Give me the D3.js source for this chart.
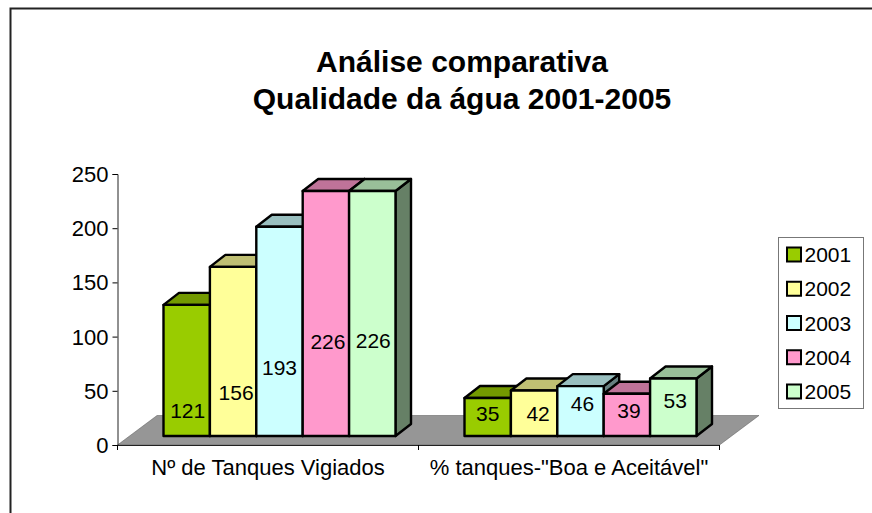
<!DOCTYPE html>
<html>
<head>
<meta charset="utf-8">
<script src="https://cdn.jsdelivr.net/npm/d3@7"></script>
<style>
  body { margin: 0; background: #fff; }
  text { font-family: "Liberation Sans", Arial, sans-serif; fill: #000; }
</style>
</head>
<body>
<div id="chart"></div>
<script>
const categories = ["Nº de Tanques Vigiados", "% tanques-\"Boa e Aceitável\""];
const years = ["2001", "2002", "2003", "2004", "2005"];
const tanques = [121, 156, 193, 226, 226];
const percent = [35, 42, 46, 39, 53];
const colors = ["#99cc00", "#ffff99", "#ccffff", "#ff99cc", "#ccffcc"];
const yTicks = [0, 50, 100, 150, 200, 250];

// data labels were moved by hand in the original, so nudge them from the bar centre
const labelNudgeX = [[1, 3, 0, 2, 1], [0, 4, 2, 2, 2]];
const labelNudgeY = [[40, 41, 36, 28, 27], [-3, 0, -7, -4, -7]];

const width = 872;
const height = 513;

const svg = d3.select("#chart").append("svg")
  .attr("width", width)
  .attr("height", height)
  .style("display", "block");

// chart frame, only top and left are drawn in the picture
svg.append("path")
  .attr("d", "M10.5,513V8.5H872")
  .attr("fill", "none")
  .attr("stroke", "#222")
  .attr("stroke-width", 2);

// title
const title = svg.append("text")
  .attr("text-anchor", "middle")
  .attr("font-weight", "bold")
  .attr("font-size", 30);
title.append("tspan").attr("x", 462).attr("y", 72).text("Análise comparativa");
title.append("tspan").attr("x", 462).attr("y", 109).text("Qualidade da água 2001-2005");

// scales
const y = d3.scaleLinear().domain([0, 250]).range([445, 174]);
const x = d3.scaleBand().domain(categories).range([117.5, 719.5]);
const xBar = d3.scaleBand().domain(years).range([46, 278]);

// 3d offsets
const floorDx = 39.5, floorDy = -29.5;
const baseDy = -9;
const barDx = 15.5, barDy = -12;

// floor
svg.append("path")
  .attr("d", d3.line()([
    [x.range()[0], y(0)],
    [x.range()[0] + floorDx, y(0) + floorDy],
    [x.range()[1] + floorDx, y(0) + floorDy],
    [x.range()[1], y(0)]
  ]) + "Z")
  .attr("fill", "#969696")
  .attr("stroke", "#555")
  .attr("stroke-width", 0.5);

// axes
const yAxis = svg.append("g")
  .attr("transform", `translate(${x.range()[0]},0)`)
  .call(d3.axisLeft(y).tickValues(yTicks).tickSize(5).tickPadding(4).tickFormat(d3.format("d")));
yAxis.selectAll("text").attr("font-size", 22).attr("dy", "0.34em");

const xAxis = svg.append("g")
  .attr("transform", `translate(0,${y(0)})`)
  .call(d3.axisBottom(x).tickSize(0).tickPadding(14));
xAxis.selectAll("text").attr("font-size", 22).attr("dy", "0.72em");
xAxis.selectAll(".tick-edge")
  .data([x(categories[0]), x(categories[1]), x.range()[1]])
  .enter().append("line")
  .attr("x1", d => d).attr("x2", d => d)
  .attr("y1", 0).attr("y2", 5)
  .attr("stroke", "#000");
svg.selectAll(".domain").attr("stroke", "#222");

function shade(c, k) {
  const rgb = d3.rgb(c);
  return d3.rgb(rgb.r * k, rgb.g * k, rgb.b * k).formatHex();
}

// bars, left to right so later ones cover the side of earlier ones
const barsLayer = svg.append("g");
const labelsLayer = svg.append("g");

[tanques, percent].forEach(function (values, c) {
  const x0 = x(categories[c]);
  values.forEach(function (v, i) {
    const left = x0 + xBar(years[i]);
    const right = left + xBar.bandwidth();
    const bottom = y(0) + baseDy;
    const top = y(v) + baseDy;
    const g = barsLayer.append("g")
      .attr("stroke", "#000")
      .attr("stroke-width", 2.4)
      .attr("stroke-linejoin", "round");

    g.append("path") // side
      .attr("d", d3.line()([[right, bottom], [right + barDx, bottom + barDy], [right + barDx, top + barDy], [right, top]]) + "Z")
      .attr("fill", shade(colors[i], 0.5));
    g.append("path") // top
      .attr("d", d3.line()([[left, top], [left + barDx, top + barDy], [right + barDx, top + barDy], [right, top]]) + "Z")
      .attr("fill", shade(colors[i], 0.75));
    g.append("rect") // front
      .attr("x", left)
      .attr("y", top)
      .attr("width", right - left)
      .attr("height", bottom - top)
      .attr("fill", colors[i]);

    labelsLayer.append("text")
      .attr("x", (left + right) / 2 + labelNudgeX[c][i])
      .attr("y", (top + bottom) / 2 + labelNudgeY[c][i])
      .attr("dy", "0.35em")
      .attr("text-anchor", "middle")
      .attr("font-size", 21)
      .text(v);
  });
});

// legend
const legendY = d3.scalePoint().domain(years).range([254.5, 391.5]);

svg.append("rect")
  .attr("x", 778.5).attr("y", 237.5)
  .attr("width", 85).attr("height", 171)
  .attr("fill", "#fff")
  .attr("stroke", "#777");

const legend = svg.append("g").selectAll("g")
  .data(years)
  .enter().append("g")
  .attr("transform", d => `translate(0,${legendY(d)})`);

legend.append("rect")
  .attr("x", 787).attr("y", -7)
  .attr("width", 14).attr("height", 14)
  .attr("fill", (d, i) => colors[i])
  .attr("stroke", "#000")
  .attr("stroke-width", 2);

legend.append("text")
  .attr("x", 804.5)
  .attr("dy", "0.36em")
  .attr("font-size", 21)
  .text(d => d);
</script>
</body>
</html>
